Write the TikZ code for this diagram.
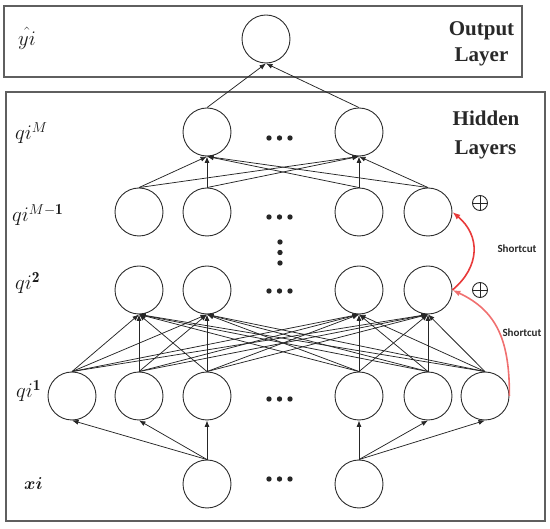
\documentclass[tikz,border=0pt]{standalone}
\usepackage{amsmath,amssymb}
\usepackage{fontspec}
\newfontfamily\titlefont{Liberation Serif}
\newfontfamily\scfont{Carlito}
\usetikzlibrary{arrows.meta}
\definecolor{nodeline}{RGB}{45,45,45}
\definecolor{boxline}{RGB}{95,95,95}
\definecolor{scred}{RGB}{232,58,58}
\definecolor{scpink}{RGB}{240,112,112}
\definecolor{titlegray}{RGB}{40,40,40}
\begin{document}
\begin{tikzpicture}[x=1pt,y=-1pt,
  neuron/.style={circle, draw=nodeline, line width=0.9pt, minimum size=48pt, inner sep=0pt},
  conn/.style={draw=black!85, line width=0.75pt, -{Latex[length=6.5pt,width=5pt]}},
  layerbox/.style={draw=boxline, line width=1.2pt},
  title/.style={font=\titlefont\bfseries\fontsize{21}{26}\selectfont, text=titlegray, anchor=base, inner sep=0pt},
  lbl/.style={anchor=base west, inner sep=0pt, text=black!90, font=\fontsize{22}{22}\selectfont},
  sclbl/.style={font=\scfont\bfseries\fontsize{11}{11}\selectfont, text=titlegray, inner sep=0pt},
  oplus/.style={circle, draw=black!85, line width=0.9pt, minimum size=15pt, inner sep=0pt},
  shortcut/.style={line width=1.6pt, -{Latex[length=8pt,width=6pt]}}
]
\useasboundingbox (0,0) rectangle (550,529);
% layer boxes
\draw[layerbox] (4,6) rectangle (522,77);
\draw[layerbox] (6,92) rectangle (545,521);
% titles
\node[title] (t1) at (481.5,36) {Output};
\node[title] (t2) at (481.5,62) {Layer};
\node[title] (t3) at (486,126) {Hidden};
\node[title] (t4) at (485.5,155) {Layers};
% neurons
\node[neuron] (out) at (266,39) {};
\node[neuron] (m1) at (207,132) {};
\node[neuron] (m2) at (359,132) {};
\node[neuron] (a1) at (139,212) {};
\node[neuron] (a2) at (207,212) {};
\node[neuron] (a3) at (359,212) {};
\node[neuron] (a4) at (428,212) {};
\node[neuron] (b1) at (139,290) {};
\node[neuron] (b2) at (207,290) {};
\node[neuron] (b3) at (359,290) {};
\node[neuron] (b4) at (428,290) {};
\node[neuron] (c1) at (72,396) {};
\node[neuron] (c2) at (139,396) {};
\node[neuron] (c3) at (207,396) {};
\node[neuron] (c4) at (359,396) {};
\node[neuron] (c5) at (428,396) {};
\node[neuron] (c6) at (485,396) {};
\node[neuron] (d1) at (207,484) {};
\node[neuron] (d2) at (359,484) {};
% connections
\foreach \s in {m1,m2} \draw[conn] (\s.north) -- (out.south);
\foreach \s in {a1,a2,a3,a4} \foreach \t in {m1,m2} \draw[conn] (\s.north) -- (\t.south);
\foreach \s in {c1,c2,c3,c4,c5,c6} \foreach \t in {b1,b2,b3,b4} \draw[conn] (\s.north) -- (\t.south);
\foreach \t in {c1,c2,c3} \draw[conn] (d1.north) -- (\t.south);
\foreach \t in {c4,c5,c6} \draw[conn] (d2.north) -- (\t.south);
% ellipsis dots
\foreach \y in {138,217,291,399,479} \foreach \x in {269,279.5,290} \fill[black!85] (\x,\y) circle (2.7);
\foreach \y in {242,252.5,263} \fill[black!85] (280,\y) circle (2.7);
% shortcuts
\draw[shortcut, scpink] (c6.east) to[out=90,in=-25,looseness=1.1] (b4.east);
\draw[shortcut, scred] (b4.east) to[out=40,in=-40,looseness=1.2] (a4.east);
\node[sclbl] (s1) at (517,249) {Shortcut};
\node[sclbl] (s2) at (522,333) {Shortcut};
\node[oplus] (p1) at (480,203) {};
\draw[black!85, line width=0.9pt] (p1.north) -- (p1.south) (p1.west) -- (p1.east);
\node[oplus] (p2) at (480,290) {};
\draw[black!85, line width=0.9pt] (p2.north) -- (p2.south) (p2.west) -- (p2.east);
% labels
\node[lbl, font=\fontsize{20}{20}\selectfont] (ly) at (18,46) {$\hat{yi}$};
\node[lbl] (lm) at (15,140) {$qi^{M}$};
\node[lbl] (lm1) at (12,222) {$qi^{M-\mathbf{1}}$};
\node[lbl] (l2) at (15,290) {$qi^{\mathbf{2}}$};
\node[lbl] (l1) at (16,398) {$qi^{\mathbf{1}}$};
\node[lbl, font=\fontsize{16}{16}\selectfont] (lx) at (24,490) {$\boldsymbol{xi}$};
\end{tikzpicture}
\end{document}
